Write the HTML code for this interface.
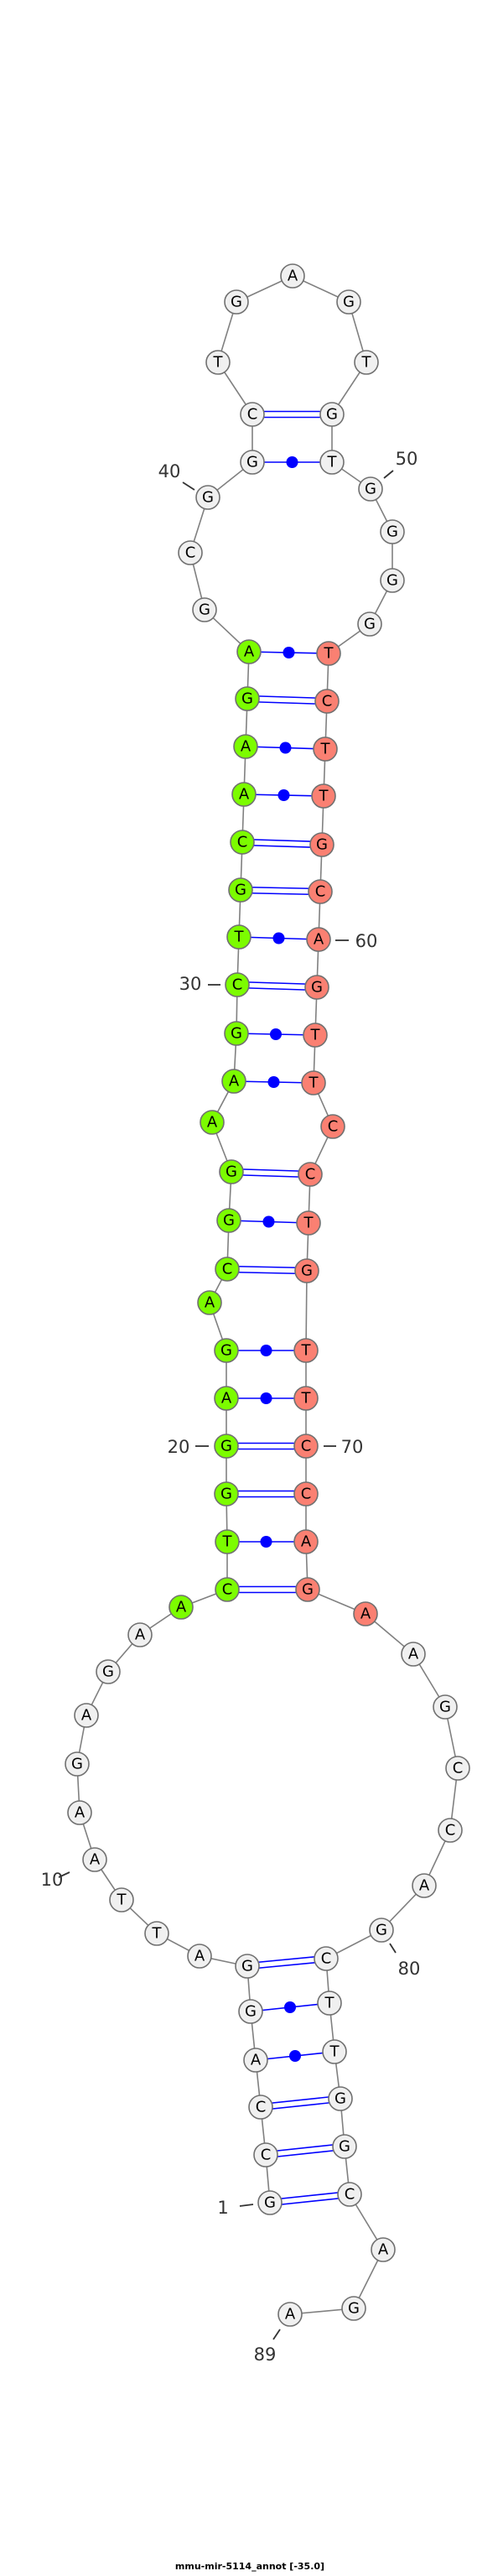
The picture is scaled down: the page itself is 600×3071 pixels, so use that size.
<!DOCTYPE html>
<html><head><meta charset="utf-8"><style>
html,body{margin:0;padding:0;background:#fff;}
svg{display:block}
.n circle{stroke:#707070;stroke-width:1.6}
.n text{font-family:"DejaVu Sans","Liberation Sans",sans-serif;font-size:18px;text-anchor:middle;dominant-baseline:central;fill:#000}
.lbl{font-family:"DejaVu Sans","Liberation Sans",sans-serif;font-size:21px;fill:#333;text-anchor:middle;dominant-baseline:central}
.tk{stroke:#333;stroke-width:1.8}
.bp{stroke:#0000ff;stroke-width:1.6}
</style></head><body>
<svg width="600" height="3071" viewBox="0 0 600 3071" xmlns="http://www.w3.org/2000/svg">
<polyline fill="none" stroke="#808080" stroke-width="1.6" points="322,2626 317,2569 311,2512 305,2456 299,2398 295,2344 238,2332 187,2305 145,2265 113,2217 95,2161 92,2103 103,2045 129,1993 167,1949 216,1916 271,1895 271,1838 270,1781 270,1724 270,1667 270,1610 250,1553 271,1513 273,1455 276,1397 253,1338 279,1289 282,1232 283,1174 285,1117 287,1061 289,1004 291,947 293,890 295,833 297,777 244,727 227,659 248,593 301,551 301,494 260,432 282,360 349,329 416,360 437,432 396,494 396,551 442,583 468,634 468,692 441,744 392,779 390,836 388,893 386,949 384,1007 382,1063 380,1120 378,1177 376,1234 374,1291 397,1343 370,1400 368,1458 366,1515 365,1610 365,1667 365,1724 365,1781 365,1838 367,1895 436,1924 493,1972 531,2035 546,2108 537,2182 506,2248 455,2301 389,2335 393,2388 399,2446 406,2502 411,2559 417,2616 457,2682 422,2752 346,2759"/>
<!-- double pairs -->
<g class="bp">
<line x1="322" y1="2622.5" x2="417" y2="2612.5"/><line x1="322" y1="2629.5" x2="417" y2="2619.5"/>
<line x1="317" y1="2565.5" x2="411" y2="2555.5"/><line x1="317" y1="2572.5" x2="411" y2="2562.5"/>
<line x1="311" y1="2508.5" x2="406" y2="2498.5"/><line x1="311" y1="2515.5" x2="406" y2="2505.5"/>
<line x1="295" y1="2340.5" x2="389" y2="2331.5"/><line x1="295" y1="2347.5" x2="389" y2="2338.5"/>
<line x1="271" y1="1891.5" x2="367" y2="1891.5"/><line x1="271" y1="1898.5" x2="367" y2="1898.5"/>
<line x1="270" y1="1777.5" x2="365" y2="1777.5"/><line x1="270" y1="1784.5" x2="365" y2="1784.5"/>
<line x1="270" y1="1720.5" x2="365" y2="1720.5"/><line x1="270" y1="1727.5" x2="365" y2="1727.5"/>
<line x1="271" y1="1509.5" x2="366" y2="1511.5"/><line x1="271" y1="1516.5" x2="366" y2="1518.5"/>
<line x1="276" y1="1393.5" x2="370" y2="1396.5"/><line x1="276" y1="1400.5" x2="370" y2="1403.5"/>
<line x1="283" y1="1170.5" x2="378" y2="1173.5"/><line x1="283" y1="1177.5" x2="378" y2="1180.5"/>
<line x1="287" y1="1057.5" x2="382" y2="1059.5"/><line x1="287" y1="1064.5" x2="382" y2="1066.5"/>
<line x1="289" y1="1000.5" x2="384" y2="1003.5"/><line x1="289" y1="1007.5" x2="384" y2="1010.5"/>
<line x1="295" y1="829.5" x2="390" y2="832.5"/><line x1="295" y1="836.5" x2="390" y2="839.5"/>
<line x1="301" y1="490.5" x2="396" y2="490.5"/><line x1="301" y1="497.5" x2="396" y2="497.5"/>
<!-- single pairs -->
<line x1="305" y1="2456" x2="399" y2="2446"/>
<line x1="299" y1="2398" x2="393" y2="2388"/>
<line x1="270" y1="1838" x2="365" y2="1838"/>
<line x1="270" y1="1667" x2="365" y2="1667"/>
<line x1="270" y1="1610" x2="365" y2="1610"/>
<line x1="273" y1="1455" x2="368" y2="1458"/>
<line x1="279" y1="1289" x2="374" y2="1291"/>
<line x1="282" y1="1232" x2="376" y2="1234"/>
<line x1="285" y1="1117" x2="380" y2="1120"/>
<line x1="291" y1="947" x2="386" y2="949"/>
<line x1="293" y1="890" x2="388" y2="893"/>
<line x1="297" y1="777" x2="392" y2="779"/>
<line x1="301" y1="551" x2="396" y2="551"/>
</g>
<g fill="#0000ff">
<circle cx="352" cy="2451" r="7"/><circle cx="346" cy="2393" r="7"/>
<circle cx="317.5" cy="1838" r="7"/><circle cx="317.5" cy="1667" r="7"/><circle cx="317.5" cy="1610" r="7"/>
<circle cx="320.5" cy="1456.5" r="7"/><circle cx="326.5" cy="1290" r="7"/><circle cx="329" cy="1233" r="7"/>
<circle cx="332.5" cy="1118.5" r="7"/><circle cx="338.5" cy="948" r="7"/><circle cx="340.5" cy="891.5" r="7"/>
<circle cx="344.5" cy="778" r="7"/><circle cx="348.5" cy="551" r="7"/>
</g>
<!-- number ticks -->
<g class="tk">
<line x1="286" y1="2630" x2="302" y2="2628"/>
<line x1="70" y1="2238" x2="83" y2="2232"/>
<line x1="233" y1="1724" x2="249" y2="1724"/>
<line x1="248" y1="1174" x2="263" y2="1174"/>
<line x1="218" y1="575" x2="232" y2="584"/>
<line x1="458" y1="570" x2="469" y2="561"/>
<line x1="400" y1="1121" x2="416" y2="1121"/>
<line x1="386" y1="1724" x2="401" y2="1724"/>
<line x1="465" y1="2317" x2="472" y2="2328"/>
<line x1="334" y1="2777" x2="326" y2="2789"/>
</g>
<text class="lbl" x="266" y="2632">1</text>
<text class="lbl" x="62" y="2241">10</text>
<text class="lbl" x="213" y="1725">20</text>
<text class="lbl" x="227" y="1173">30</text>
<text class="lbl" x="202" y="562">40</text>
<text class="lbl" x="485" y="547">50</text>
<text class="lbl" x="437" y="1122">60</text>
<text class="lbl" x="420" y="1725">70</text>
<text class="lbl" x="488" y="2347">80</text>
<text class="lbl" x="316" y="2807">89</text>
<!-- nodes -->
<g class="n">
<g fill="#f0f0f0">
<circle cx="322" cy="2626" r="14"/><circle cx="317" cy="2569" r="14"/><circle cx="311" cy="2512" r="14"/><circle cx="305" cy="2456" r="14"/><circle cx="299" cy="2398" r="14"/><circle cx="295" cy="2344" r="14"/><circle cx="238" cy="2332" r="14"/><circle cx="187" cy="2305" r="14"/><circle cx="145" cy="2265" r="14"/><circle cx="113" cy="2217" r="14"/><circle cx="95" cy="2161" r="14"/><circle cx="92" cy="2103" r="14"/><circle cx="103" cy="2045" r="14"/><circle cx="129" cy="1993" r="14"/><circle cx="167" cy="1949" r="14"/>
<circle cx="244" cy="727" r="14"/><circle cx="227" cy="659" r="14"/><circle cx="248" cy="593" r="14"/><circle cx="301" cy="551" r="14"/><circle cx="301" cy="494" r="14"/><circle cx="260" cy="432" r="14"/><circle cx="282" cy="360" r="14"/><circle cx="349" cy="329" r="14"/><circle cx="416" cy="360" r="14"/><circle cx="437" cy="432" r="14"/><circle cx="396" cy="494" r="14"/><circle cx="396" cy="551" r="14"/><circle cx="442" cy="583" r="14"/><circle cx="468" cy="634" r="14"/><circle cx="468" cy="692" r="14"/><circle cx="441" cy="744" r="14"/>
<circle cx="493" cy="1972" r="14"/><circle cx="531" cy="2035" r="14"/><circle cx="546" cy="2108" r="14"/><circle cx="537" cy="2182" r="14"/><circle cx="506" cy="2248" r="14"/><circle cx="455" cy="2301" r="14"/><circle cx="389" cy="2335" r="14"/><circle cx="393" cy="2388" r="14"/><circle cx="399" cy="2446" r="14"/><circle cx="406" cy="2502" r="14"/><circle cx="411" cy="2559" r="14"/><circle cx="417" cy="2616" r="14"/><circle cx="457" cy="2682" r="14"/><circle cx="422" cy="2752" r="14"/><circle cx="346" cy="2759" r="14"/>
</g>
<g fill="#7cfc00">
<circle cx="216" cy="1916" r="14"/><circle cx="271" cy="1895" r="14"/><circle cx="271" cy="1838" r="14"/><circle cx="270" cy="1781" r="14"/><circle cx="270" cy="1724" r="14"/><circle cx="270" cy="1667" r="14"/><circle cx="270" cy="1610" r="14"/><circle cx="250" cy="1553" r="14"/><circle cx="271" cy="1513" r="14"/><circle cx="273" cy="1455" r="14"/><circle cx="276" cy="1397" r="14"/><circle cx="253" cy="1338" r="14"/><circle cx="279" cy="1289" r="14"/><circle cx="282" cy="1232" r="14"/><circle cx="283" cy="1174" r="14"/><circle cx="285" cy="1117" r="14"/><circle cx="287" cy="1061" r="14"/><circle cx="289" cy="1004" r="14"/><circle cx="291" cy="947" r="14"/><circle cx="293" cy="890" r="14"/><circle cx="295" cy="833" r="14"/><circle cx="297" cy="777" r="14"/>
</g>
<g fill="#fa8072">
<circle cx="392" cy="779" r="14"/><circle cx="390" cy="836" r="14"/><circle cx="388" cy="893" r="14"/><circle cx="386" cy="949" r="14"/><circle cx="384" cy="1007" r="14"/><circle cx="382" cy="1063" r="14"/><circle cx="380" cy="1120" r="14"/><circle cx="378" cy="1177" r="14"/><circle cx="376" cy="1234" r="14"/><circle cx="374" cy="1291" r="14"/><circle cx="397" cy="1343" r="14"/><circle cx="370" cy="1400" r="14"/><circle cx="368" cy="1458" r="14"/><circle cx="366" cy="1515" r="14"/><circle cx="365" cy="1610" r="14"/><circle cx="365" cy="1667" r="14"/><circle cx="365" cy="1724" r="14"/><circle cx="365" cy="1781" r="14"/><circle cx="365" cy="1838" r="14"/><circle cx="367" cy="1895" r="14"/><circle cx="436" cy="1924" r="14"/>
</g>
<text x="322" y="2626">G</text><text x="317" y="2569">C</text><text x="311" y="2512">C</text><text x="305" y="2456">A</text><text x="299" y="2398">G</text><text x="295" y="2344">G</text><text x="238" y="2332">A</text><text x="187" y="2305">T</text><text x="145" y="2265">T</text><text x="113" y="2217">A</text><text x="95" y="2161">A</text><text x="92" y="2103">G</text><text x="103" y="2045">A</text><text x="129" y="1993">G</text><text x="167" y="1949">A</text><text x="216" y="1916">A</text><text x="271" y="1895">C</text><text x="271" y="1838">T</text><text x="270" y="1781">G</text><text x="270" y="1724">G</text><text x="270" y="1667">A</text><text x="270" y="1610">G</text><text x="250" y="1553">A</text><text x="271" y="1513">C</text><text x="273" y="1455">G</text><text x="276" y="1397">G</text><text x="253" y="1338">A</text><text x="279" y="1289">A</text><text x="282" y="1232">G</text><text x="283" y="1174">C</text><text x="285" y="1117">T</text><text x="287" y="1061">G</text><text x="289" y="1004">C</text><text x="291" y="947">A</text><text x="293" y="890">A</text><text x="295" y="833">G</text><text x="297" y="777">A</text><text x="244" y="727">G</text><text x="227" y="659">C</text><text x="248" y="593">G</text><text x="301" y="551">G</text><text x="301" y="494">C</text><text x="260" y="432">T</text><text x="282" y="360">G</text><text x="349" y="329">A</text><text x="416" y="360">G</text><text x="437" y="432">T</text><text x="396" y="494">G</text><text x="396" y="551">T</text><text x="442" y="583">G</text><text x="468" y="634">G</text><text x="468" y="692">G</text><text x="441" y="744">G</text><text x="392" y="779">T</text><text x="390" y="836">C</text><text x="388" y="893">T</text><text x="386" y="949">T</text><text x="384" y="1007">G</text><text x="382" y="1063">C</text><text x="380" y="1120">A</text><text x="378" y="1177">G</text><text x="376" y="1234">T</text><text x="374" y="1291">T</text><text x="397" y="1343">C</text><text x="370" y="1400">C</text><text x="368" y="1458">T</text><text x="366" y="1515">G</text><text x="365" y="1610">T</text><text x="365" y="1667">T</text><text x="365" y="1724">C</text><text x="365" y="1781">C</text><text x="365" y="1838">A</text><text x="367" y="1895">G</text><text x="436" y="1924">A</text><text x="493" y="1972">A</text><text x="531" y="2035">G</text><text x="546" y="2108">C</text><text x="537" y="2182">C</text><text x="506" y="2248">A</text><text x="455" y="2301">G</text><text x="389" y="2335">C</text><text x="393" y="2388">T</text><text x="399" y="2446">T</text><text x="406" y="2502">G</text><text x="411" y="2559">G</text><text x="417" y="2616">C</text><text x="457" y="2682">A</text><text x="422" y="2752">G</text><text x="346" y="2759">A</text>
</g>
<text x="298" y="3063" font-family="'DejaVu Sans','Liberation Sans',sans-serif" font-size="11" font-weight="bold" text-anchor="middle" fill="#000">mmu-mir-5114_annot [-35.0]</text>
</svg>
</body></html>
